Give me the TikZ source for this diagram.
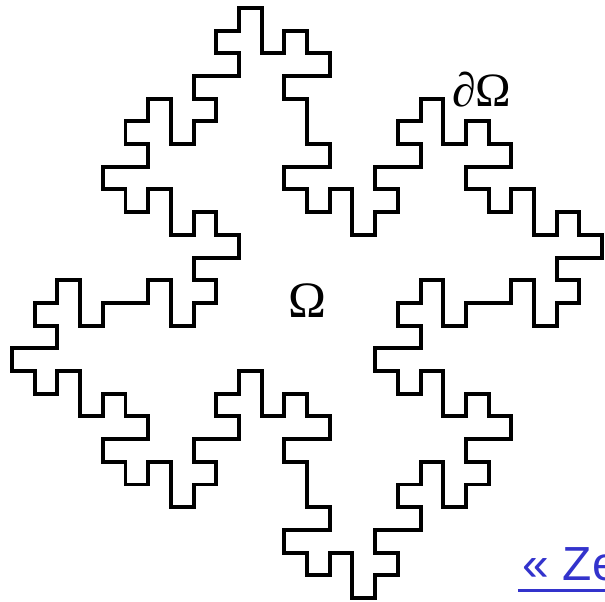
\documentclass[tikz,border=0pt]{standalone}
\usepackage{fontspec}
\setmainfont{Liberation Serif}
\newfontfamily\linkfont{Liberation Sans}
\definecolor{kiink}{HTML}{000000}
\definecolor{kilink}{HTML}{3333CC}
\tikzset{
  boundary/.style={draw=kiink,line width=2.5pt,line join=miter,line cap=rect},
  region/.style={text=kiink,inner sep=0pt,anchor=base},
  link/.style={text=kilink,inner sep=0pt,anchor=base west,font=\linkfont\fontsize{30}{32}\selectfont},
  linkline/.style={draw=kilink,line width=1.8pt},
}

\begin{document}
\begin{tikzpicture}[x=5mm,y=-5mm]
  \useasboundingbox (-0.53,-0.35) rectangle (26.13,26.17);
  \clip (-0.53,-0.35) rectangle (26.13,26.17);
  \foreach \a in {0,90,180,270}
    \draw[boundary,rotate around={\a:(13,13)}] (11,0)--(10,0)--(10,1)--(9,1)--(9,2)--(10,2)--(10,3)--(8,3)--(8,4)--(9,4)--(9,5)--(8,5)--(8,6)--(7,6)--(7,4)--(6,4)--(6,5)--(5,5)--(5,6)--(6,6)--(6,7)--(4,7)--(4,8)--(5,8)--(5,9)--(6,9)--(6,8)--(7,8)--(7,10)--(8,10)--(8,9)--(9,9)--(9,10)--(10,10)--(10,11)--(8,11)--(8,12)--(9,12)--(9,13)--(8,13)--(8,14)--(7,14)--(7,12)--(6,12)--(6,13)--(4,13)--(4,14)--(3,14)--(3,12)--(2,12)--(2,13)--(1,13)--(1,14)--(2,14)--(2,15)--(0,15);
  \node[region,font=\fontsize{32}{34}\selectfont] (omega) at (13.02,13.62) {Ω};
  \node[region,font=\fontsize{30}{32}\selectfont] (bdry) at (20.7,4.36) {∂Ω};
  \node[link] (zlink) at (22.5,25.25) {« Ze};
  \draw[linkline] ([xshift=-3pt,yshift=-5mm*0.44]zlink.base west) -- ([yshift=-5mm*0.44]zlink.base east);
\end{tikzpicture}
\end{document}
